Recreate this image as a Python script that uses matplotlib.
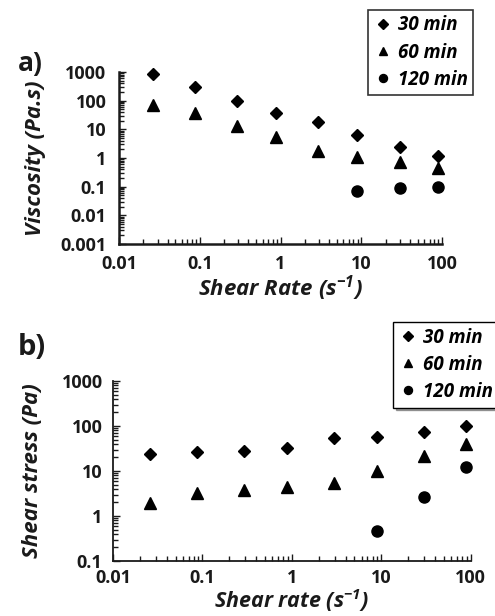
import matplotlib
matplotlib.use("Agg")
import matplotlib.pyplot as plt
from matplotlib.lines import Line2D
from matplotlib.ticker import LogLocator, FixedLocator, FixedFormatter, NullFormatter

plt.rcParams['font.family'] = ['Open Sans', 'DejaVu Sans']
plt.rcParams['mathtext.fontset'] = 'custom'
plt.rcParams['mathtext.rm'] = 'Open Sans'
plt.rcParams['mathtext.bf'] = 'Open Sans:bold:italic'

## data
rate = [0.026, 0.087, 0.29, 0.89, 2.95, 8.9, 30, 89]
rate_120 = [8.9, 30, 89]

visc_30 = [870, 310, 98, 36, 18, 6.6, 2.5, 1.17]
visc_60 = [69, 37, 13, 5.2, 1.8, 1.05, 0.7, 0.44]
visc_120 = [0.071, 0.087, 0.1]

stress_30 = [23.5, 27, 28.5, 33, 55, 58, 72, 100]
stress_60 = [1.9, 3.3, 3.8, 4.5, 5.3, 9.8, 22, 40]
stress_120 = [0.47, 2.6, 12]

series_names = ["30 min", "60 min", "120 min"]
x_ticks = [0.01, 0.1, 1, 10, 100]
x_ticklabels = ["0.01", "0.1", "1", "10", "100"]
visc_ticks = [0.001, 0.01, 0.1, 1, 10, 100, 1000]
visc_ticklabels = ["0.001", "0.01", "0.1", "1", "10", "100", "1000"]
stress_ticks = [0.1, 1, 10, 100, 1000]
stress_ticklabels = ["0.1", "1", "10", "100", "1000"]

markers = ("D", "^", "o")
msizes = (6.5, 8.5, 8.0)
ink = "#1a1a1a"

fig = plt.figure(figsize=(4.95, 6.16), dpi=100)


def style_axes(ax, yticks, yticklabels, lw, xpad, ypad):
    ax.set_xscale("log")
    ax.set_yscale("log")
    for s in ("top", "right"):
        ax.spines[s].set_visible(False)
    for s in ("left", "bottom"):
        ax.spines[s].set_linewidth(lw)
        ax.spines[s].set_color(ink)
    ax.xaxis.set_major_locator(FixedLocator(x_ticks))
    ax.xaxis.set_major_formatter(FixedFormatter(x_ticklabels))
    ax.yaxis.set_major_locator(FixedLocator(yticks))
    ax.yaxis.set_major_formatter(FixedFormatter(yticklabels))
    ax.xaxis.set_minor_locator(LogLocator(base=10, subs=range(2, 10), numticks=20))
    ax.yaxis.set_minor_locator(LogLocator(base=10, subs=range(2, 10), numticks=20))
    ax.xaxis.set_minor_formatter(NullFormatter())
    ax.yaxis.set_minor_formatter(NullFormatter())
    ax.tick_params(which="both", direction="in", width=1.0, colors=ink)
    ax.tick_params(which="major", length=5)
    ax.tick_params(which="minor", length=3.5)
    ax.tick_params(axis="x", which="major", pad=xpad)
    ax.tick_params(axis="y", which="major", pad=ypad)
    for t in ax.get_xticklabels() + ax.get_yticklabels():
        t.set_fontweight("bold")
        t.set_fontsize(13)
        t.set_color(ink)


def draw_points(ax, xs_list, ys_list):
    for xs, ys, m, ms in zip(xs_list, ys_list, markers, msizes):
        ax.plot(xs, ys, linestyle="none", marker=m, markersize=ms, color="black", clip_on=False)


def make_legend(ax, loc, frame_lw, shadow):
    handles = [Line2D([], [], linestyle="none", marker=m, color="black", markersize=ms * 0.72)
               for m, ms in zip(markers, msizes)]
    leg = ax.legend(handles, series_names, loc="upper left", bbox_to_anchor=loc,
                    bbox_transform=fig.transFigure, frameon=True, fancybox=False,
                    shadow=shadow, handlelength=1.0, handletextpad=0.3,
                    borderpad=0.3, labelspacing=0.38, borderaxespad=0,
                    prop={"weight": "bold", "style": "italic", "size": 13.5})
    leg.get_frame().set_edgecolor("black")
    leg.get_frame().set_linewidth(frame_lw)
    return leg


label_font = {"fontsize": 16, "fontweight": "bold", "style": "italic", "color": ink}

## a) viscosity
ax1 = fig.add_axes([0.2404, 0.6039, 0.6526, 0.2792])
draw_points(ax1, [rate, rate, rate_120], [visc_30, visc_60, visc_120])
ax1.set_xlim(0.01, 100)
ax1.set_ylim(0.001, 1000)
style_axes(ax1, visc_ticks, visc_ticklabels, 1.8, 8, 9)
ax1.set_xlabel("Shear Rate (s$^{\\mathbf{-1}}$)", labelpad=0, **label_font)
ax1.set_ylabel("Viscosity (Pa.s)", labelpad=10, **label_font)
make_legend(ax1, (0.743, 0.984), 1.2, False)
fig.text(0.036, 0.884, "a)", fontsize=19, fontweight="bold", color=ink)

## b) shear stress
ax2 = fig.add_axes([0.2283, 0.0893, 0.7228, 0.2922])
draw_points(ax2, [rate, rate, rate_120], [stress_30, stress_60, stress_120])
ax2.set_xlim(0.01, 100)
ax2.set_ylim(0.1, 1000)
style_axes(ax2, stress_ticks, stress_ticklabels, 1.3, 6, 7.5)
ax2.set_xlabel("Shear rate (s$^{\\mathbf{-1}}$)", labelpad=-0.5, fontsize=15.5,
               fontweight="bold", style="italic", color=ink)
ax2.set_ylabel("Shear stress (Pa)", labelpad=13, **label_font)
make_legend(ax2, (0.794, 0.477), 1.0, True)
fig.text(0.036, 0.423, "b)", fontsize=21, fontweight="bold", color=ink)

fig.savefig("out.png", dpi=100)
